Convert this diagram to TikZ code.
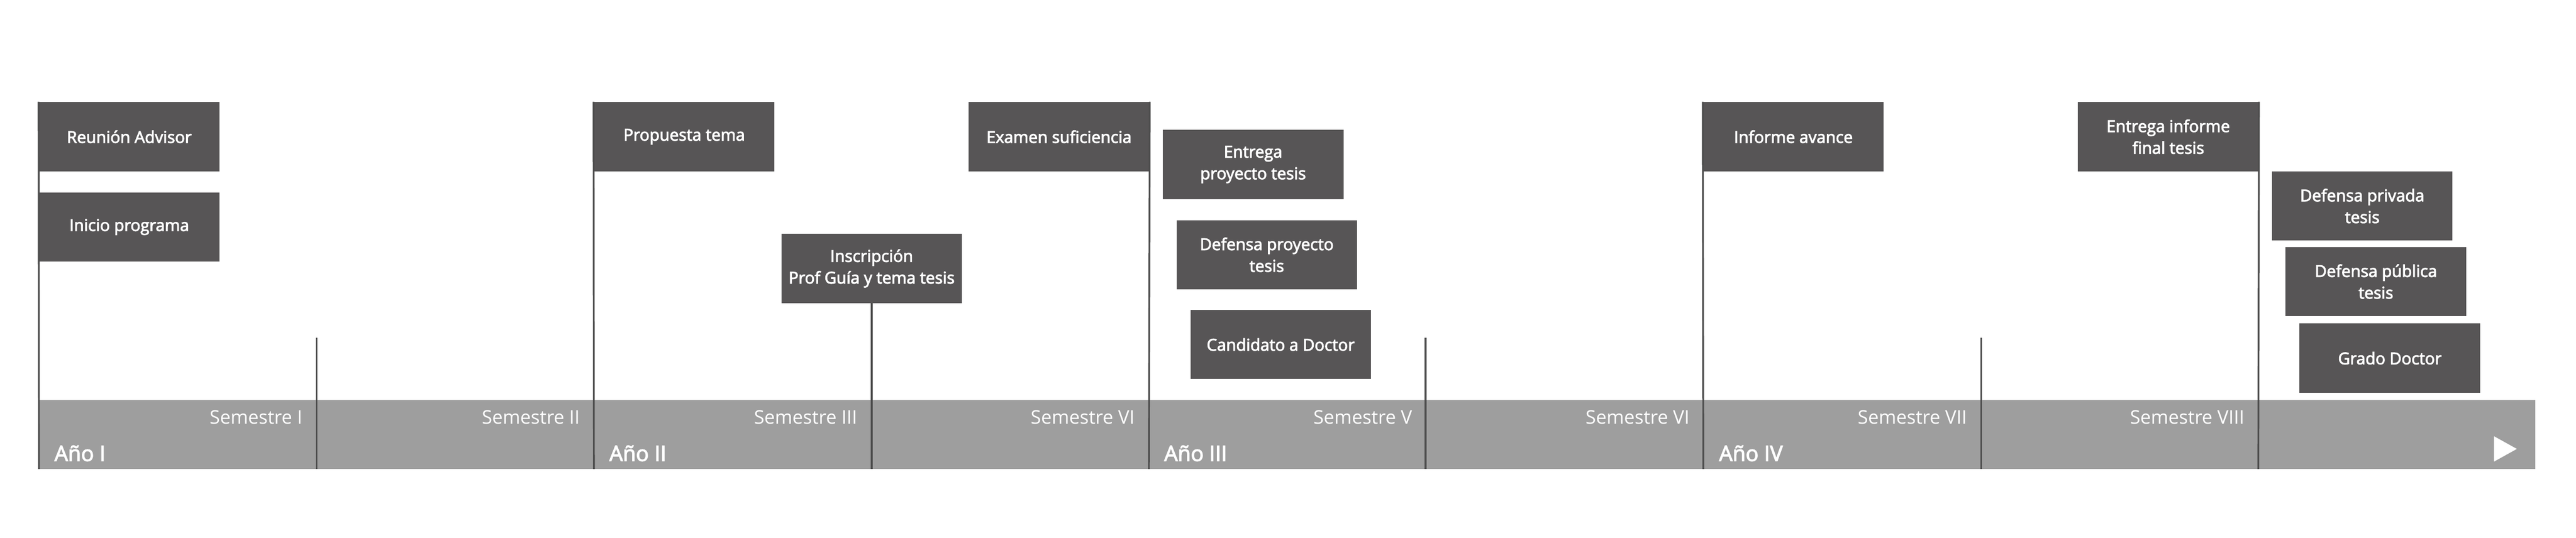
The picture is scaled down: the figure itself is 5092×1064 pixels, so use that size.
\documentclass[tikz,border=0pt]{standalone}
\usepackage{fontspec}
\setmainfont{Open Sans}
\newfontfamily\hitofont[FakeBold=3]{Open Sans}
\usetikzlibrary{positioning}
\definecolor{hitogris}{HTML}{575556}
\definecolor{barragris}{HTML}{9E9E9E}
\definecolor{lineagris}{HTML}{4D4D4D}
\tikzset{
  hito/.style={fill=hitogris, text=white, minimum width=3.57cm, minimum height=1.37cm,
    inner sep=0pt, align=center, font=\hitofont\fontsize{9.2}{12.2}\selectfont},
  eje/.style={draw=lineagris, line width=1pt},
  semestre/.style={text=white, anchor=base east, inner sep=0pt,
    font=\fontsize{10.6}{14}\selectfont},
  anio/.style={text=white, anchor=base west, inner sep=0pt,
    font=\hitofont\fontsize{12}{14}\selectfont},
}
\begin{document}
\begin{tikzpicture}[x=0.1mm, y=-0.1mm, node distance=1.785cm]
  \useasboundingbox (0,0) rectangle (5092,1064);

  % barra de tiempo
  \fill[barragris] (77,791) rectangle (5012,928);
  \fill[white] (4930,863) -- (4975,888) -- (4930,913) -- cycle;

  % hitos
  \node[hito] (reunion) at (255.5,270.5) {Reunión Advisor};
  \node[hito] (inicio) [below of=reunion] {Inicio programa};
  \node[hito] (propuesta) at (1352.5,270.5) {Propuesta tema};
  \node[hito] (inscripcion) at (1723,531) {Inscripción\\Prof Guía y tema tesis};
  \node[hito] (examen) at (2093.5,270.5) {Examen suficiencia};
  \node[hito] (entregaproy) at (2477,325.5) {Entrega\\proyecto tesis};
  \node[hito] (defensaproy) at (2504,504) {Defensa proyecto\\tesis};
  \node[hito] (candidato) at (2531.5,681.5) {Candidato a Doctor};
  \node[hito] (informe) at (3545,270.5) {Informe avance};
  \node[hito] (entregafinal) at (4286,270.5) {Entrega informe\\final tesis};
  \node[hito] (privada) at (4669.5,407.5) {Defensa privada\\tesis};
  \node[hito] (publica) at (4696.5,557) {Defensa pública\\tesis};
  \node[hito] (grado) at (4724,708.5) {Grado Doctor};

  % extremos de las lineas
  \coordinate (a1) at (77,928);
  \coordinate (a2) at (1174,928);
  \coordinate (a3) at (2271,928);
  \coordinate (a4) at (3367,928);
  \coordinate (a5) at (4464,928);
  \coordinate (s3) at (1723,928);
  \foreach \x/\n in {626/1, 2818/5, 3916/7} {
    \coordinate (t\n) at (\x,668);
    \coordinate (s\n) at (\x,928);
  }

  % lineas
  \draw[eje] (reunion.north west) -- (a1);
  \draw[eje] (propuesta.north west) -- (a2);
  \draw[eje] (examen.north east) -- (a3);
  \draw[eje] (informe.north west) -- (a4);
  \draw[eje] (entregafinal.north east) -- (a5);
  \draw[eje] (inscripcion.south) -- (s3);
  \foreach \n in {1,5,7}
    \draw[eje] (t\n) -- (s\n);

  % rotulos
  \foreach \n/\t in {1/I, 2/II, 3/III, 4/VI, 5/V, 6/VI, 7/VII, 8/VIII}
    \node[semestre] (sem\n) at (77+548.4*\n-27,839) {Semestre \t};
  \foreach \n/\t in {0/I, 1/II, 2/III, 3/IV}
    \node[anio] (anio\n) at (77+1096.8*\n+30,912) {Año \t};
\end{tikzpicture}
\end{document}
